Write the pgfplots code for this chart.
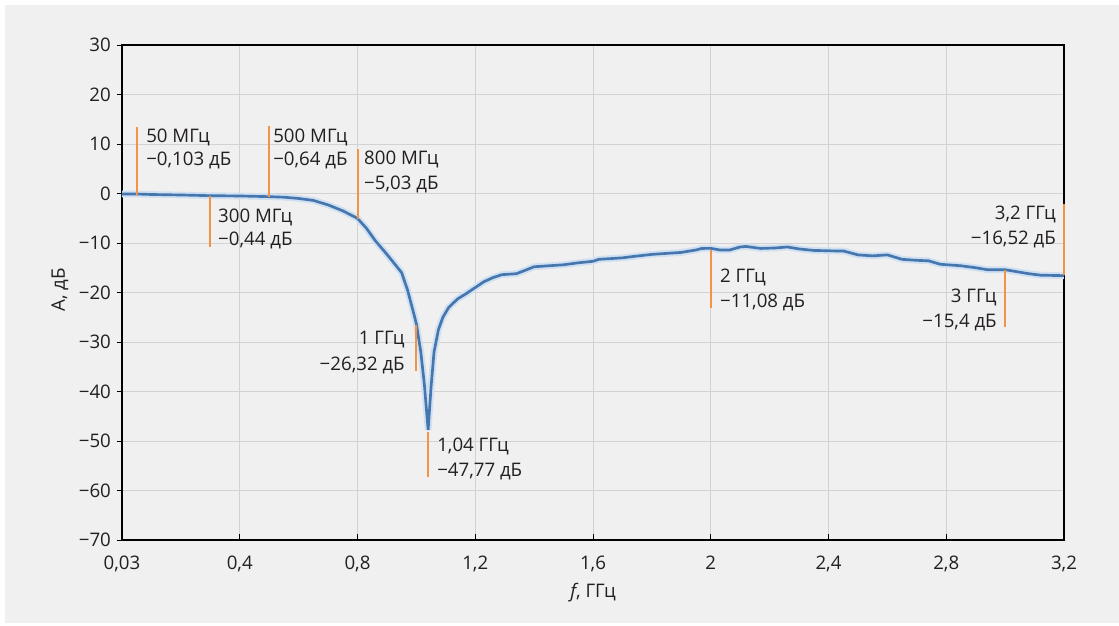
\documentclass[border=0pt]{standalone}
\usepackage{fontspec}
\setmainfont{Open Sans}
\usepackage{pgfplots}
\usepackage{pgfplotstable}
\pgfplotsset{compat=1.18}
\definecolor{bg}{HTML}{F0F0F0}
\definecolor{gridc}{HTML}{D2D2D2}
\definecolor{curve}{HTML}{4676AE}
\definecolor{halo}{HTML}{CFE0F2}
\definecolor{ann}{HTML}{F29446}
\definecolor{txt}{HTML}{231F20}

\pgfplotstableread{
x y
0.00 -0.10
0.05 -0.103
0.10 -0.20
0.20 -0.30
0.30 -0.44
0.40 -0.50
0.50 -0.64
0.55 -0.75
0.60 -1.00
0.65 -1.40
0.70 -2.30
0.75 -3.50
0.80 -5.03
0.83 -7.00
0.86 -9.50
0.90 -12.3
0.93 -14.5
0.95 -16.0
0.97 -19.5
0.99 -24.0
1.00 -26.32
1.015 -32.0
1.027 -38.5
1.04 -47.77
1.05 -39.0
1.06 -32.0
1.075 -27.5
1.09 -25.0
1.11 -23.0
1.14 -21.3
1.17 -20.2
1.20 -19.0
1.23 -17.8
1.26 -17.0
1.29 -16.4
1.34 -16.2
1.37 -15.5
1.40 -14.8
1.45 -14.6
1.50 -14.4
1.55 -14.0
1.60 -13.7
1.62 -13.3
1.70 -13.0
1.74 -12.7
1.80 -12.3
1.85 -12.1
1.90 -11.9
1.95 -11.4
1.97 -11.1
2.00 -11.08
2.03 -11.4
2.065 -11.4
2.10 -10.8
2.12 -10.7
2.17 -11.1
2.22 -11.0
2.26 -10.8
2.30 -11.2
2.35 -11.5
2.42 -11.6
2.45 -11.6
2.50 -12.4
2.55 -12.6
2.60 -12.4
2.65 -13.3
2.70 -13.5
2.74 -13.6
2.78 -14.3
2.85 -14.6
2.90 -15.0
2.94 -15.4
3.00 -15.4
3.04 -15.8
3.08 -16.2
3.12 -16.5
3.20 -16.6
}\curvedata

\begin{document}
\fontsize{14}{17}\selectfont
\begin{tikzpicture}
\useasboundingbox (-91.5pt,-63.75pt) rectangle (747.75pt,405pt);
\fill[white] (-91.5pt,-63.75pt) rectangle (747.75pt,405pt);
\fill[bg] (-87.75pt,-62.25pt) rectangle (747.75pt,401.25pt);
\begin{axis}[
  at={(0,0)}, anchor=south west,
  scale only axis, width=706.5pt, height=371.25pt,
  xmin=0, xmax=3.2, ymin=-70, ymax=30,
  clip=false,
  xtick={0,0.4,0.8,1.2,1.6,2,2.4,2.8,3.2},
  xticklabels={{0,03},{0,4},{0,8},{1,2},{1,6},{2},{2,4},{2,8},{3,2}},
  ytick={-70,-60,-50,-40,-30,-20,-10,0,10,20,30},
  yticklabels={−70,−60,−50,−40,−30,−20,−10,0,10,20,30},
  grid=major,
  major grid style={gridc, line width=0.75pt},
  axis line style={black, line width=1pt},
  tick pos=left,
  tick align=inside,
  major tick length=4.5pt,
  tick style={black, line width=0.75pt},
  y tick style={xshift=-3.75pt},
  ticklabel style={txt, font=\fontsize{14}{17}\selectfont},
  yticklabel style={xshift=-3.5pt},
  xticklabel style={yshift=-7pt},
  xlabel={\textit{f}, ГГц},
  ylabel={A, дБ},
  label style={txt, font=\fontsize{14}{17}\selectfont},
  xlabel style={at={(axis description cs:0.5,-0.074)}, anchor=north},
  ylabel style={at={(axis description cs:-0.066,0.505)}, anchor=center},
]
\addplot[halo, line width=5pt, forget plot] table[x=x,y=y] {\curvedata};
\addplot[curve, line width=2pt] table[x=x,y=y] {\curvedata};

\addplot[ann, line width=1.5pt, forget plot] coordinates {(0.05,13.4) (0.05,-0.3)};
\addplot[ann, line width=1.5pt, forget plot] coordinates {(0.3,-0.5) (0.3,-10.8)};
\addplot[ann, line width=1.5pt, forget plot] coordinates {(0.5,13.6) (0.5,-0.7)};
\addplot[ann, line width=1.5pt, forget plot] coordinates {(0.8,9.0) (0.8,-5.2)};
\addplot[ann, line width=1.5pt, forget plot] coordinates {(1.0,-26.6) (1.0,-35.8)};
\addplot[ann, line width=1.5pt, forget plot] coordinates {(1.04,-48.1) (1.04,-57.2)};
\addplot[ann, line width=1.5pt, forget plot] coordinates {(2.0,-11.4) (2.0,-23.1)};
\addplot[ann, line width=1.5pt, forget plot] coordinates {(3.0,-15.5) (3.0,-27.0)};
\addplot[ann, line width=1.5pt, forget plot] coordinates {(3.2,-2.1) (3.2,-16.5)};

\tikzset{lbl/.style={txt, inner sep=0pt}}
\node[lbl, anchor=base west] at (axis cs:0.0816,10.4) {50 МГц};
\node[lbl, anchor=base west] at (axis cs:0.0816,5.56) {−0,103 дБ};
\node[lbl, anchor=base west] at (axis cs:0.513,10.4) {500 МГц};
\node[lbl, anchor=base west] at (axis cs:0.513,5.56) {−0,64 дБ};
\node[lbl, anchor=base west] at (axis cs:0.326,-5.76) {300 МГц};
\node[lbl, anchor=base west] at (axis cs:0.326,-10.6) {−0,44 дБ};
\node[lbl, anchor=base west] at (axis cs:0.822,5.76) {800 МГц};
\node[lbl, anchor=base west] at (axis cs:0.822,0.71) {−5,03 дБ};
\node[lbl, anchor=base east] at (axis cs:0.961,-30.6) {1 ГГц};
\node[lbl, anchor=base east] at (axis cs:0.961,-35.66) {−26,32 дБ};
\node[lbl, anchor=base west] at (axis cs:1.070,-52.2) {1,04 ГГц};
\node[lbl, anchor=base west] at (axis cs:1.070,-57.07) {−47,77 дБ};
\node[lbl, anchor=base west] at (axis cs:2.031,-18.08) {2 ГГц};
\node[lbl, anchor=base west] at (axis cs:2.031,-23.13) {−11,08 дБ};
\node[lbl, anchor=base east] at (axis cs:2.972,-22.12) {3 ГГц};
\node[lbl, anchor=base east] at (axis cs:2.972,-27.17) {−15,4 дБ};
\node[lbl, anchor=base east] at (axis cs:3.173,-5.35) {3,2 ГГц};
\node[lbl, anchor=base east] at (axis cs:3.173,-10.4) {−16,52 дБ};
\end{axis}
\end{tikzpicture}
\end{document}
